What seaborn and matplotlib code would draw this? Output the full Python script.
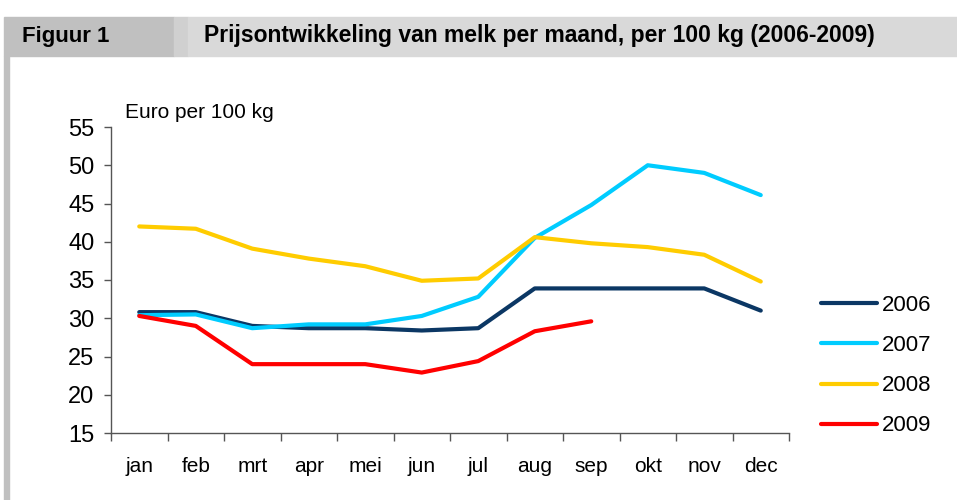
import pandas as pd
import numpy as np
import matplotlib
matplotlib.use('Agg')
import matplotlib.pyplot as plt
import matplotlib.patches as patches
import seaborn as sns

# Data
months = ['jan', 'feb', 'mrt', 'apr', 'mei', 'jun', 'jul', 'aug', 'sep', 'okt', 'nov', 'dec']
years = ['2006', '2007', '2008', '2009']
price_2006 = [30.8, 30.8, 29.0, 28.7, 28.7, 28.4, 28.7, 33.9, 33.9, 33.9, 33.9, 31.0]
price_2007 = [30.4, 30.5, 28.7, 29.2, 29.2, 30.3, 32.8, 40.5, 44.8, 50.0, 49.0, 46.1]
price_2008 = [42.0, 41.7, 39.1, 37.8, 36.8, 34.9, 35.2, 40.6, 39.8, 39.3, 38.3, 34.8]
price_2009 = [30.3, 29.0, 24.0, 24.0, 24.0, 22.9, 24.4, 28.3, 29.6]
colors = ['#0b3764', '#00ccff', '#ffcc00', '#ff0000']

# Build a long table for seaborn
rows = []
for year, vals in zip(years, [price_2006, price_2007, price_2008, price_2009]):
    for i, v in enumerate(vals):
        rows.append({'maand': i, 'jaar': year, 'prijs': v})
df = pd.DataFrame(rows)

sns.set_style('white')
plt.rcParams['font.family'] = ['Liberation Sans', 'DejaVu Sans']
plt.rcParams['text.color'] = 'black'
plt.rcParams['xtick.color'] = 'black'
plt.rcParams['ytick.color'] = 'black'

fig = plt.figure(figsize=(9.57, 5.0), dpi=100)

# Header band and left border
W, H = 957, 500
fig.patches.append(patches.Rectangle((4 / W, 1 - 56 / H), 170 / W, 39 / H,
                                     transform=fig.transFigure, color='#c0c0c0', zorder=0))
fig.patches.append(patches.Rectangle((174 / W, 1 - 56 / H), 14 / W, 39 / H,
                                     transform=fig.transFigure, color='#d0d0d0', zorder=0))
fig.patches.append(patches.Rectangle((188 / W, 1 - 56 / H), 769 / W, 39 / H,
                                     transform=fig.transFigure, color='#d9d9d9', zorder=0))
fig.patches.append(patches.Rectangle((4 / W, 0), 5 / W, 1 - 56 / H,
                                     transform=fig.transFigure, color='#c0c0c0', zorder=0))
fig.text(22 / W, 1 - 42 / H, 'Figuur 1', fontsize=16, fontweight='bold', va='baseline')
fig.text(204 / W, 1 - 42 / H, 'Prijsontwikkeling van melk per maand, per 100 kg (2006-2009)',
         fontsize=16.5, fontweight='bold', va='baseline')

ax = fig.add_axes([111 / W, 67 / H, 678 / W, 306 / H])
sns.lineplot(data=df, x='maand', y='prijs', hue='jaar', palette=colors,
             linewidth=3, ax=ax, legend=True)

ax.set_xlim(-0.5, 11.5)
ax.set_ylim(15, 55)
ax.set_yticks(range(15, 56, 5))
ax.set_xticks(range(12))
ax.set_xticklabels(months)
ax.set_xticks(np.arange(-0.5, 12, 1), minor=True)
ax.tick_params(axis='x', which='major', length=0, pad=17, labelsize=15)
ax.tick_params(axis='x', which='minor', length=6, width=1, color='#555555', direction='out')
ax.tick_params(axis='y', length=5, width=1, color='#555555', direction='out', labelsize=17, pad=7)
ax.xaxis.set_ticks_position('bottom')
ax.yaxis.set_ticks_position('left')
ax.set_xlabel('')
ax.set_ylabel('')
for s in ['top', 'right']:
    ax.spines[s].set_visible(False)
for s in ['left', 'bottom']:
    ax.spines[s].set_color('#555555')
    ax.spines[s].set_linewidth(1)

ax.text(125 / W, 1 - 113 / H, 'Euro per 100 kg', transform=fig.transFigure,
        fontsize=15, va='center')

leg = ax.legend(loc='upper left', bbox_to_anchor=(810 / W, 1 - 284 / H),
                bbox_transform=fig.transFigure, frameon=False, fontsize=16,
                handlelength=2.5, handletextpad=0.25, labelspacing=0.86, borderpad=0)

fig.savefig('out.png', dpi=100)
